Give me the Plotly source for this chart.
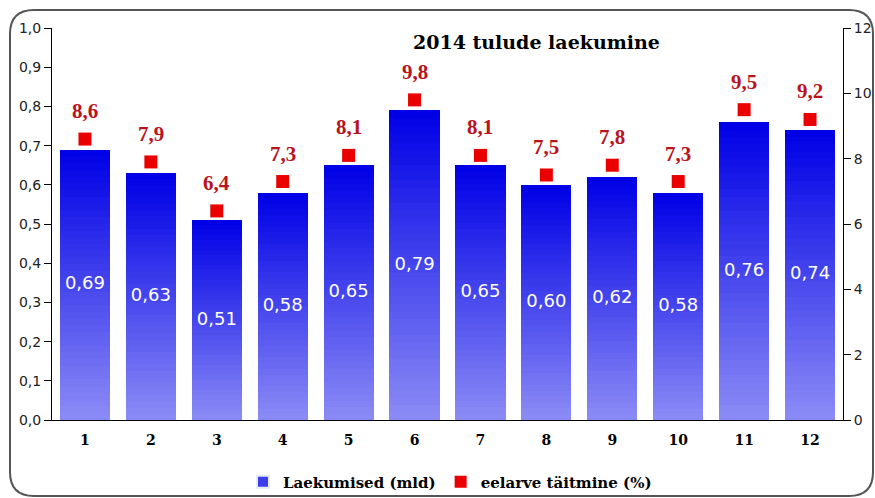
import plotly.graph_objects as go

months = list(range(1, 13))
month_labels = [str(m) for m in months]
revenue = [0.69, 0.63, 0.51, 0.58, 0.65, 0.79, 0.65, 0.60, 0.62, 0.58, 0.76, 0.74]
budget_pct = [8.6, 7.9, 6.4, 7.3, 8.1, 9.8, 8.1, 7.5, 7.8, 7.3, 9.5, 9.2]

W, H = 875, 498
L, R, T, B = 52, 32, 28, 78
PW, PH = W - L - R, H - T - B


def px(x):
    return (x - L) / PW


def py(y):
    return (H - B - y) / PH


fig = go.Figure()

# gradient bars (overlay of shrinking bars; top dark -> bottom light)
N = 40
top = (0, 0, 230)
bot = (142, 142, 246)
for k in range(N):
    frac = 1 - k / N
    c = tuple(round(bot[i] + (top[i] - bot[i]) * frac) for i in range(3))
    fig.add_trace(go.Bar(
        x=months, y=[v * frac for v in revenue], width=0.76,
        marker=dict(color=f"rgb{c}", line=dict(width=0)),
        showlegend=False, hoverinfo="skip",
    ))

# legend entry for bars
fig.add_trace(go.Bar(x=[None], y=[None], name="<b>Laekumised (mld)</b>",
                     marker=dict(color="rgb(60,60,235)")))

# value labels inside bars
fig.add_trace(go.Scatter(
    x=months, y=[v / 2 for v in revenue], mode="text",
    text=[f"{v:.2f}".replace(".", ",") for v in revenue],
    textfont=dict(family="DejaVu Sans", size=18, color="white"),
    showlegend=False, hoverinfo="skip",
))

# budget execution markers
fig.add_trace(go.Scatter(
    x=months, y=budget_pct, yaxis="y2", mode="markers",
    marker=dict(symbol="square", size=13, color="rgb(235,0,0)"),
    name="<b>eelarve täitmine (%)</b>",
))

annotations = []
for m, p in zip(months, budget_pct):
    annotations.append(dict(
        x=m, y=p, xref="x", yref="y2", yshift=28, showarrow=False,
        text=f"<b>{p:.1f}</b>".replace(".", ","),
        font=dict(family="Liberation Serif", size=21, color="rgb(185,20,30)"),
    ))
annotations.append(dict(
    x=px(536), y=py(42), xref="paper", yref="paper", showarrow=False,
    xanchor="center", yanchor="middle",
    text="<b>2014 tulude laekumine</b>",
    font=dict(family="DejaVu Serif", size=19, color="black"),
))

boundaries = [m - 0.5 for m in months] + [months[-1] + 0.5]
xr = [months[0] - 0.5, months[-1] + 0.5]

# rounded border
x0, y0, x1, y1, r = 10, 10, 873, 496, 24
rx, ry = r / PW, r / PH
X0, X1, Y0, Y1 = px(x0), px(x1), py(y0), py(y1)
path = (f"M{X0+rx},{Y0} L{X1-rx},{Y0} Q{X1},{Y0} {X1},{Y0-ry} "
        f"L{X1},{Y1+ry} Q{X1},{Y1} {X1-rx},{Y1} "
        f"L{X0+rx},{Y1} Q{X0},{Y1} {X0},{Y1+ry} "
        f"L{X0},{Y0-ry} Q{X0},{Y0} {X0+rx},{Y0} Z")

fig.update_layout(
    width=W, height=H,
    margin=dict(l=L, r=R, t=T, b=B, pad=0, autoexpand=False),
    paper_bgcolor="white", plot_bgcolor="white",
    barmode="overlay", bargap=0,
    separators=", ",
    showlegend=True,
    legend=dict(orientation="h", x=px(450), xanchor="center", y=py(482), yanchor="middle",
                font=dict(family="DejaVu Serif", size=15, color="black"),
                itemsizing="constant", bgcolor="rgba(0,0,0,0)"),
    font=dict(family="DejaVu Sans", color="#222"),
    xaxis=dict(range=xr, tickvals=months, ticktext=[f"<b>{s}</b>" for s in month_labels],
               ticks="outside", ticklen=7, tickcolor="rgba(0,0,0,0)",
               showline=True, linecolor="black", linewidth=1, showgrid=False, zeroline=False,
               tickfont=dict(family="DejaVu Serif", size=14, color="black")),
    xaxis2=dict(range=xr, overlaying="x", anchor="y", tickvals=boundaries, ticks="outside",
                ticklen=6, tickcolor="black", showticklabels=False, showline=False,
                showgrid=False, zeroline=False),
    xaxis3=dict(range=xr, overlaying="x", anchor="y", tickvals=boundaries, ticks="inside",
                ticklen=5, tickcolor="black", showticklabels=False, showline=False,
                showgrid=False, zeroline=False),
    yaxis=dict(range=[0, 1], dtick=0.1, tickformat=".1f", ticks="outside", ticklen=7,
               tickcolor="black", showline=True, linecolor="black", showgrid=False,
               zeroline=False, tickfont=dict(family="DejaVu Sans", size=14, color="#222")),
    yaxis2=dict(range=[0, 12], dtick=2, side="right", overlaying="y", anchor="x",
                ticks="outside", ticklen=7, tickcolor="black", showline=True,
                linecolor="black", showgrid=False, zeroline=False,
                tickfont=dict(family="DejaVu Sans", size=14, color="#222")),
    yaxis3=dict(range=[0, 1], dtick=0.1, overlaying="y", anchor="x", side="left",
                ticks="inside", ticklen=6, tickcolor="black", showticklabels=False,
                showline=False, showgrid=False, zeroline=False),
    yaxis4=dict(range=[0, 12], dtick=2, overlaying="y", anchor="x", side="right",
                ticks="inside", ticklen=6, tickcolor="black", showticklabels=False,
                showline=False, showgrid=False, zeroline=False),
    annotations=annotations,
    shapes=[dict(type="path", path=path, xref="paper", yref="paper",
                 line=dict(color="#555", width=2), layer="above")],
)

fig.write_html("out.html")
